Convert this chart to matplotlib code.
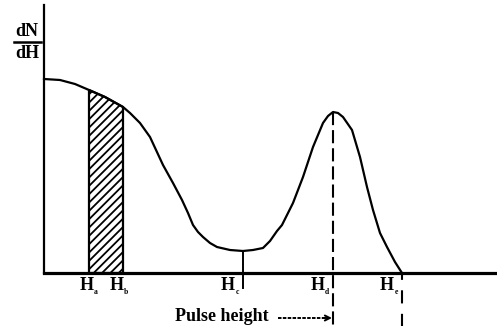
import numpy as np
import matplotlib
matplotlib.use("Agg")
import matplotlib.pyplot as plt

plt.rcParams['font.family'] = ['Liberation Serif', 'DejaVu Serif']
plt.rcParams['hatch.linewidth'] = 1.3

# pulse height spectrum (arbitrary units)
altura = [0, 16, 31, 45, 61, 79, 86, 96, 106, 119, 129, 138, 144, 149, 154, 159,
          166, 173, 186, 199, 209, 219, 226, 233, 238, 243, 249, 259, 269, 279,
          284, 289, 294, 299, 308, 316, 323, 329, 336, 343, 351, 358]
cuentas = [194, 193, 189, 183, 176, 166, 160, 150, 136, 108, 90, 73, 60, 48, 41, 36,
           30, 26, 23, 22, 23, 25, 32, 42, 48, 58, 70, 96, 126, 150,
           157, 161, 160, 156, 143, 116, 86, 63, 40, 26, 11, 0]

# marked pulse heights
H_a, H_b, H_c, H_d, H_e = 45, 79, 199, 289, 358
etiquetas = ['a', 'b', 'c', 'd', 'e']
pos_etiquetas = [43, 73, 184, 274, 343]

x = np.array(altura)
y = np.array(cuentas)

fig = plt.figure(figsize=(4.97, 3.28), dpi=100)
ax = fig.add_axes([0, 0, 1, 1])
ax.set_xlim(-44, 453)
ax.set_ylim(-55, 273)

for s in ['top', 'right']:
    ax.spines[s].set_visible(False)
ax.spines['left'].set_position(('data', 0))
ax.spines['bottom'].set_position(('data', 0))
ax.spines['left'].set_bounds(0, 268)
ax.spines['bottom'].set_bounds(0, 453)
ax.spines['left'].set_linewidth(1.6)
ax.spines['bottom'].set_linewidth(2.3)
ax.set_xticks([])
ax.set_yticks([])

ax.plot(x, y, color='black', lw=1.6, zorder=3, solid_joinstyle='round')

# hatched window between Ha and Hb
sel = (x >= H_a) & (x <= H_b)
ax.fill_between(x[sel], 0, y[sel], facecolor='white', edgecolor='black',
                hatch='////', lw=1.6, zorder=2)

ax.plot([H_c, H_c], [y[x == H_c][0], -15], color='black', lw=1.4, clip_on=False)
ax.plot([H_d, H_d], [y[x == H_d][0], -53], color='black', lw=1.5,
        linestyle=(0, (6.3, 2.4)), clip_on=False)
ax.plot([H_e, H_e], [0, -53], color='black', lw=1.5,
        linestyle=(3, (6.3, 5)), clip_on=False)

for px, lab in zip(pos_etiquetas, etiquetas):
    ax.text(px, -17, 'H', ha='center', va='baseline', fontsize=13, fontweight='bold')
    ax.text(px + 9, -21, lab, ha='center', va='baseline', fontsize=5.5,
            fontweight='bold')

ax.text(131, -48, 'Pulse height', ha='left', va='baseline', fontsize=13,
        fontweight='bold')
ax.plot([234, 282], [-45, -45], color='black', lw=1.4, linestyle=(0, (1.8, 0.7)))
ax.annotate('', xy=(288, -45), xytext=(279, -45),
            arrowprops=dict(arrowstyle='->', color='black', lw=1.4,
                            mutation_scale=9, shrinkA=0, shrinkB=0))

# y label as a fraction
ax.text(-17, 241, 'dN', ha='center', va='center', fontsize=13, fontweight='bold')
ax.text(-17, 220, 'dH', ha='center', va='center', fontsize=13, fontweight='bold')
ax.plot([-30, -3], [231, 231], color='black', lw=1.8)

fig.savefig('out.png', dpi=100)
